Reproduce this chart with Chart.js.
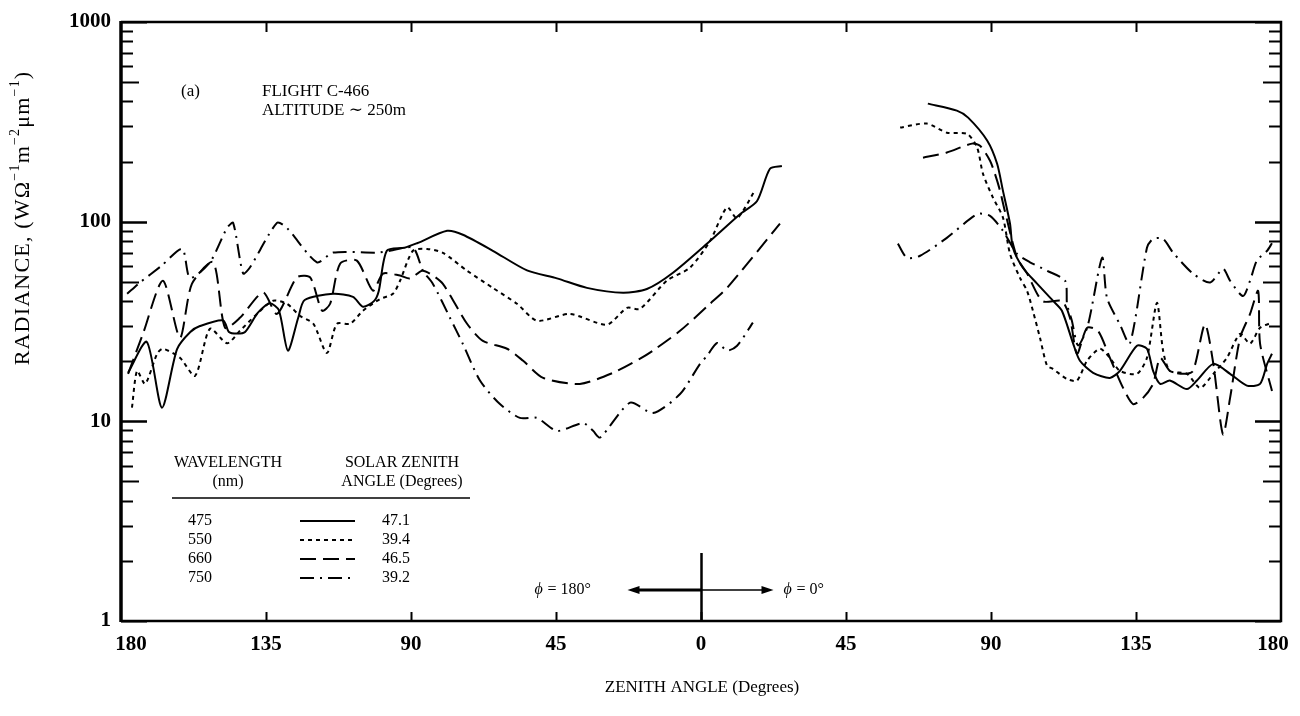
<!DOCTYPE html>
<html>
<head>
<meta charset="utf-8">
<script src="https://cdn.jsdelivr.net/npm/chart.js@4.4.1/dist/chart.umd.min.js"></script>
<style>
  html, body { margin: 0; padding: 0; background: #fff; }
  #wrap { width: 1300px; height: 716px; }
</style>
</head>
<body>
<div id="wrap"><canvas id="graficoRadiancia"></canvas></div>
<script>
// Scan angle: negative = phi 180 side, positive = phi 0 side (|x| is the zenith angle)
const ang475L = [-177.8, -172, -167.3, -162.6, -158.5, -155.5, -148.3, -146.5, -144, -141.5, -137.5, -133.8, -131, -128.2, -125, -123, -114.2, -108, -104.9, -101.5, -100, -97.5, -92, -88.1, -78.8, -73.9, -64.6, -54, -44.7, -35.4, -24.2, -16.8, -8.7, 2.8, 12.1, 17.4, 21.4, 25.1];
const rad475L = [17.5, 25, 11.7, 23, 28, 30, 32, 28, 27.5, 28, 35, 39, 36, 22.6, 33, 40.5, 43.5, 42, 37.5, 40, 45, 71.5, 74, 78, 90, 86, 71.5, 57, 52, 46.6, 44, 46, 55.5, 80, 109, 127, 184, 190];
const ang475R = [70.4, 79.4, 82.9, 88.8, 91.9, 93.7, 95.9, 96.8, 99.9, 104.3, 109.2, 112, 115.5, 117.6, 121.7, 126.9, 130, 135.3, 138.4, 140.3, 142.5, 145.5, 150.8, 153.9, 159, 164.2, 169.4, 173.5, 175.7, 177.2];
const rad475R = [390, 360, 332, 255, 195, 143, 97.7, 74, 58.8, 48.9, 40.2, 35.8, 24.5, 20.1, 17.5, 16.5, 17.9, 23.9, 23.1, 17.9, 15.4, 16, 14.5, 16, 19.4, 17.3, 15.1, 15.4, 19.4, 21.8];

const ang550L = [-176.6, -175, -172.5, -168.8, -167, -161.7, -157, -152.4, -147.1, -143.1, -137.8, -132.8, -128.5, -124.4, -120.3, -116.1, -113, -108.9, -104.9, -99.6, -95.6, -93.4, -89.4, -85, -80.1, -72.6, -64.6, -57.1, -50.9, -40.7, -29.2, -23, -18.9, -10.6, -3.4, 2.8, 8.1, 11.2, 16.8];
const rad550L = [11.7, 17.9, 15.4, 21.8, 23.1, 20.8, 16.9, 29.1, 24.6, 28.4, 34.5, 40.2, 38.8, 33.7, 30.8, 22, 30.8, 30.8, 35.8, 41, 43.5, 50.6, 71.5, 73, 69.8, 56.8, 46.6, 38.8, 31.9, 34.5, 30.5, 37, 36.6, 50.6, 58.9, 80, 118, 104, 144];
const ang550R = [61.8, 70.1, 76.3, 82.6, 85.7, 87.5, 90.6, 93.7, 95.9, 99, 101.2, 103, 105.2, 107.4, 109.2, 113.6, 116.7, 119.8, 123.8, 126.9, 130, 135.3, 138.4, 141.5, 143.4, 145.5, 150.8, 154.9, 159, 163.2, 167.3, 170.4, 173.5, 177.2];
const rad550R = [296, 310, 279, 275, 235, 174, 132, 105, 69, 52.3, 45, 35.8, 26.2, 19, 18.3, 16.3, 16, 20.1, 23.1, 20.8, 17.9, 17.3, 20.8, 39.2, 22.6, 17.9, 17.3, 14.7, 17.3, 20.8, 27.4, 24.5, 29.4, 31.2];

const ang660L = [-177.8, -173.2, -167, -161.7, -158, -151.4, -147.7, -143.1, -135.9, -131.6, -125.4, -121.3, -117.6, -115.1, -112, -106.8, -101.8, -98.7, -93.4, -90.3, -86.6, -84.1, -80.1, -72.6, -67.7, -60.2, -55.2, -49, -37.6, -27.3, -18.9, -14.9, -6.5, 2.8, 8.1, 24.5];
const rad660L = [17.3, 27.4, 50.6, 26.2, 48.8, 62.6, 29.4, 33, 44.2, 34.5, 52.6, 52.6, 35.8, 38.8, 61.6, 63.8, 45.1, 54.9, 53.7, 51.9, 56.8, 54.9, 48.8, 30.8, 25.3, 23.1, 20.1, 16.5, 15.4, 17.5, 20.6, 22.6, 28.4, 38.8, 46.6, 97.7];
const ang660R = [68.9, 76.3, 84.1, 86.6, 89.7, 91.2, 92.8, 94.3, 98.1, 101.2, 106, 112, 114.5, 116.7, 119.8, 123.2, 126.9, 131, 134.1, 137.2, 140.3, 142.5, 145.5, 149.6, 152.7, 156.4, 159, 162, 164.2, 167.3, 170.4, 172.9, 173.5, 177.2];
const rad660R = [209, 222, 246, 240, 202, 174, 143, 113, 66, 55, 40, 40, 33, 21.8, 29.4, 28.4, 20.8, 14.7, 12.2, 13.1, 15.4, 20.8, 17.9, 17.3, 17.9, 30.6, 19.4, 8.6, 13.1, 26.2, 34.5, 45, 24.5, 14.2];

const ang750L = [-178.1, -174.1, -167.5, -161, -158.6, -152.4, -147.1, -145.2, -142.1, -140, -131.6, -128.5, -119.2, -114.2, -100.6, -96.5, -89.4, -86.3, -83.2, -77.9, -73.9, -68.6, -62.4, -56.2, -50.9, -44.7, -36.6, -33.5, -31.3, -22, -14.9, -6.5, -0.3, 1.9, 5, 8.1, 11.2, 16.1];
const rad750L = [43.5, 49.6, 60, 73, 52.3, 62.6, 93, 98.6, 55, 58.9, 98.6, 93, 62.6, 70, 70, 71.5, 74, 56.8, 48.8, 33, 24.4, 16, 12.2, 10.4, 10.4, 8.96, 9.8, 8.96, 8.3, 12.4, 11, 13.7, 19.4, 21.3, 24.7, 22.6, 23.9, 31.2];
const ang750R = [61.1, 63.9, 68, 76.3, 85.7, 89.7, 93.7, 98.1, 102.1, 107.4, 113, 113.6, 115.1, 117, 120, 124.5, 126, 130, 133.1, 138.4, 140.3, 143.4, 146.5, 152.7, 158, 162, 164.2, 168.2, 170.4, 172.5, 175.7, 177.2];
const rad750R = [77.6, 66, 67.5, 83, 109, 107, 90, 69, 62.6, 56.8, 50.6, 38.7, 31.9, 24, 30, 66, 41.5, 30.6, 24.5, 74, 82, 82, 70, 54.9, 49.6, 58, 50.6, 42.4, 50.6, 63.8, 71.5, 78];

// Legend table
const comprimentos = ['475', '550', '660', '750'];
const zenitesSolares = ['47.1', '39.4', '46.5', '39.2'];
const tracos = [[], [4, 4], [16, 7], [14, 6, 2, 6]];

// x tick labels every 45 degrees
const angulosX = [-180, -135, -90, -45, 0, 45, 90, 135, 180];
const decadasY = [1, 10, 100, 1000];

const SERIF = '"Liberation Serif", "DejaVu Serif", serif';

function pontos(ang, rad) {
    return ang.map((a, i) => ({ x: a, y: rad[i] }));
}

function serie(ang, rad, dash) {
    return {
        data: pontos(ang, rad),
        borderColor: '#000',
        borderWidth: 2,
        borderDash: dash,
        pointRadius: 0,
        tension: 0.25,
        fill: false
    };
}

const datasets = [
    serie(ang475L, rad475L, tracos[0]), serie(ang475R, rad475R, tracos[0]),
    serie(ang550L, rad550L, tracos[1]), serie(ang550R, rad550R, tracos[1]),
    serie(ang660L, rad660L, tracos[2]), serie(ang660R, rad660R, tracos[2]),
    serie(ang750L, rad750L, tracos[3]), serie(ang750R, rad750R, tracos[3])
];

// frame, inward ticks, labels and the annotations
const moldura = {
    id: 'moldura',
    afterDraw(chart) {
        const ctx = chart.ctx;
        const xs = chart.scales.x, ys = chart.scales.y;
        const { left, right, top, bottom } = chart.chartArea;
        ctx.save();
        ctx.strokeStyle = '#000';
        ctx.fillStyle = '#000';
        ctx.setLineDash([]);

        // box
        ctx.lineWidth = 2.5;
        ctx.beginPath();
        ctx.moveTo(left, top); ctx.lineTo(right, top); ctx.lineTo(right, bottom); ctx.lineTo(left, bottom);
        ctx.stroke();
        ctx.lineWidth = 3.5;
        ctx.beginPath();
        ctx.moveTo(left, top - 1); ctx.lineTo(left, bottom + 1);
        ctx.stroke();

        // log ticks on both sides
        ctx.lineWidth = 2;
        for (const d of [1, 10, 100]) {
            for (let m = 1; m <= 10; m++) {
                const py = Math.round(ys.getPixelForValue(d * m)) + 0.5;
                const len = (m === 1 || m === 10) ? 26 : (m === 5 ? 18 : 12);
                ctx.beginPath();
                ctx.moveTo(left, py); ctx.lineTo(left + len, py);
                ctx.moveTo(right, py); ctx.lineTo(right - len, py);
                ctx.stroke();
            }
        }

        // x ticks top and bottom
        for (const a of angulosX) {
            if (a === -180 || a === 180) continue;
            const px = Math.round(xs.getPixelForValue(a)) + 0.5;
            ctx.beginPath();
            ctx.moveTo(px, top); ctx.lineTo(px, top + 10);
            ctx.moveTo(px, bottom); ctx.lineTo(px, bottom - 9);
            ctx.stroke();
        }

        // x tick labels
        ctx.font = 'bold 21px ' + SERIF;
        ctx.textAlign = 'center';
        ctx.textBaseline = 'middle';
        for (const a of angulosX) {
            let px = xs.getPixelForValue(a);
            if (a === -180) px += 10;
            if (a === 180) px -= 8;
            ctx.fillText(String(Math.abs(a)), px, bottom + 24);
        }

        // axis titles
        ctx.font = '17px ' + SERIF;
        ctx.fillText('ZENITH ANGLE (Degrees)', (left + right) / 2 + 1, bottom + 67);

        const partes = [['RADIANCE, (W\u03A9', 0], ['\u22121', 1], ['m', 0], ['\u22122', 1], ['\u03BCm', 0], ['\u22121', 1], [')', 0]];
        const fN = '22px ' + SERIF, fS = '14px ' + SERIF;
        ctx.letterSpacing = '1.2px';
        let total = 0;
        for (const [t, s] of partes) { ctx.font = s ? fS : fN; total += ctx.measureText(t).width; }
        ctx.save();
        ctx.translate(23, 218);
        ctx.rotate(-Math.PI / 2);
        ctx.textAlign = 'left';
        let cx = -total / 2;
        for (const [t, s] of partes) {
            ctx.font = s ? fS : fN;
            ctx.fillText(t, cx, s ? -8 : 0);
            cx += ctx.measureText(t).width;
        }
        ctx.restore();
        ctx.letterSpacing = '0px';

        // flight note
        ctx.textAlign = 'left';
        ctx.font = '17px ' + SERIF;
        ctx.fillText('(a)', 181, 92);
        ctx.fillText('FLIGHT C-466', 262, 92);
        ctx.fillText('ALTITUDE \u223C 250m', 262, 111);

        // azimuth marker at nadir
        const x0 = Math.round(xs.getPixelForValue(0)) + 0.5;
        ctx.lineWidth = 2.5;
        ctx.beginPath();
        ctx.moveTo(x0, bottom - 68); ctx.lineTo(x0, bottom);
        ctx.stroke();
        const ya = bottom - 31;
        ctx.lineWidth = 3;
        ctx.beginPath(); ctx.moveTo(x0 - 66, ya); ctx.lineTo(x0, ya); ctx.stroke();
        ctx.lineWidth = 1.5;
        ctx.beginPath(); ctx.moveTo(x0, ya); ctx.lineTo(x0 + 66, ya); ctx.stroke();
        ctx.beginPath();
        ctx.moveTo(x0 - 74, ya); ctx.lineTo(x0 - 62, ya - 4); ctx.lineTo(x0 - 62, ya + 4); ctx.closePath();
        ctx.moveTo(x0 + 72, ya); ctx.lineTo(x0 + 60, ya - 4); ctx.lineTo(x0 + 60, ya + 4); ctx.closePath();
        ctx.fill();
        ctx.font = 'italic 16px ' + SERIF;
        ctx.fillText('\u03D5', x0 - 167, ya);
        ctx.fillText('\u03D5', x0 + 82, ya);
        ctx.font = '16px ' + SERIF;
        ctx.fillText(' = 180\u00B0', x0 - 158, ya);
        ctx.fillText(' = 0\u00B0', x0 + 91, ya);

        // wavelength table
        ctx.textAlign = 'center';
        ctx.font = '16px ' + SERIF;
        ctx.fillText('WAVELENGTH', 228, 463);
        ctx.fillText('(nm)', 228, 482);
        ctx.fillText('SOLAR ZENITH', 402, 463);
        ctx.fillText('ANGLE (Degrees)', 402, 482);
        ctx.lineWidth = 1.5;
        ctx.beginPath(); ctx.moveTo(172, 498); ctx.lineTo(470, 498); ctx.stroke();
        comprimentos.forEach((c, i) => {
            const yy = 521 + i * 19;
            ctx.fillText(c, 200, yy);
            ctx.fillText(zenitesSolares[i], 396, yy);
            ctx.lineWidth = 2;
            ctx.setLineDash(tracos[i]);
            ctx.beginPath(); ctx.moveTo(300, yy); ctx.lineTo(355, yy); ctx.stroke();
            ctx.setLineDash([]);
        });
        ctx.restore();
    }
};

new Chart(document.getElementById('graficoRadiancia'), {
    type: 'line',
    data: { datasets: datasets },
    options: {
        responsive: true,
        maintainAspectRatio: false,
        animation: false,
        devicePixelRatio: 1,
        layout: { padding: { top: 22, right: 19, bottom: 0, left: 0 } },
        plugins: { legend: { display: false }, tooltip: { enabled: false } },
        scales: {
            x: {
                type: 'linear',
                min: -180,
                max: 180,
                grid: { display: false },
                border: { display: false },
                ticks: { display: false },
                afterFit: s => { s.height = 95; }
            },
            y: {
                type: 'logarithmic',
                min: 1,
                max: 1000,
                grid: { display: false },
                border: { display: false },
                afterBuildTicks: s => { s.ticks = decadasY.map(v => ({ value: v })); },
                ticks: {
                    autoSkip: false,
                    padding: 2,
                    color: '#000',
                    font: { family: SERIF, size: 21, weight: 'bold' },
                    callback: v => String(v)
                },
                afterFit: s => { s.width = 121; }
            }
        }
    },
    plugins: [moldura]
});
</script>
</body>
</html>
